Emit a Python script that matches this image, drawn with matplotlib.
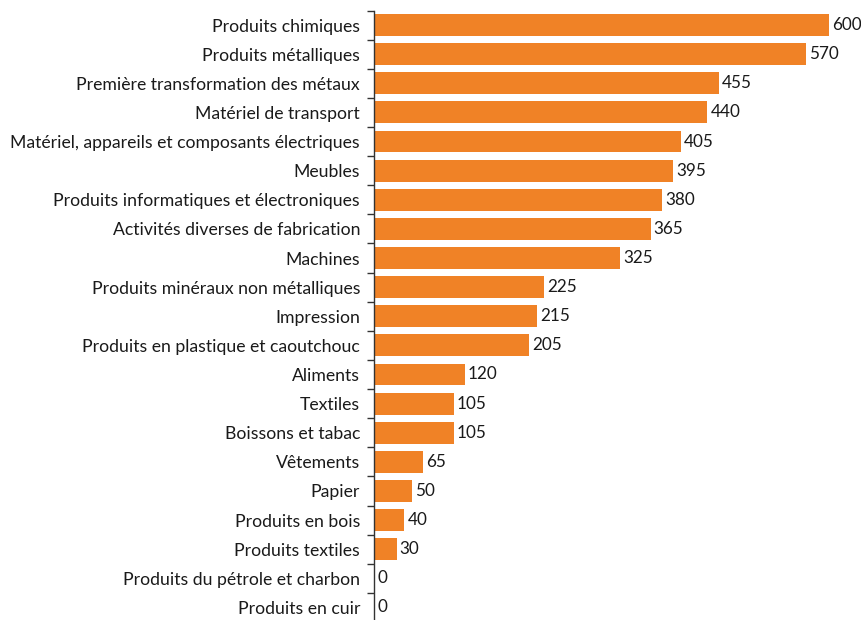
import matplotlib
matplotlib.use("Agg")
import matplotlib.pyplot as plt
import numpy as np

categories = [
    "Produits chimiques",
    "Produits métalliques",
    "Première transformation des métaux",
    "Matériel de transport",
    "Matériel, appareils et composants électriques",
    "Meubles",
    "Produits informatiques et électroniques",
    "Activités diverses de fabrication",
    "Machines",
    "Produits minéraux non métalliques",
    "Impression",
    "Produits en plastique et caoutchouc",
    "Aliments",
    "Textiles",
    "Boissons et tabac",
    "Vêtements",
    "Papier",
    "Produits en bois",
    "Produits textiles",
    "Produits du pétrole et charbon",
    "Produits en cuir",
]
values = [600, 570, 455, 440, 405, 395, 380, 365, 325, 225, 215, 205,
          120, 105, 105, 65, 50, 40, 30, 0, 0]

plt.rcParams['font.family'] = ['Lato', 'DejaVu Sans']

fig = plt.figure(figsize=(8.62, 6.2), dpi=100)
ax = fig.add_axes([374/862, -2/620, (862-374)/862, 1 - 8.5/620])

n = len(categories)
y = np.arange(n)
ax.barh(y, values, height=0.75, color="#F08226")
ax.set_ylim(n - 0.5, -0.5)
ax.set_xlim(0, 644)

for yi, v in zip(y, values):
    ax.text(v + 4, yi, f"{v}", va="center", ha="left", fontsize=12.3, color="#1a1a1a")

ax.set_yticks(y)
ax.set_yticklabels(categories, fontsize=12.7, color="#1a1a1a")
ax.tick_params(axis="y", which="major", length=0, pad=10)
ax.set_yticks(np.arange(-0.5, n, 1), minor=True)
ax.tick_params(axis="y", which="minor", length=5, width=1, color="#333333", direction="out")
ax.set_xticks([])

for s in ["top", "right", "bottom"]:
    ax.spines[s].set_visible(False)
ax.spines["left"].set_color("#333333")
ax.spines["left"].set_linewidth(1)

fig.savefig("out.png", dpi=100)
